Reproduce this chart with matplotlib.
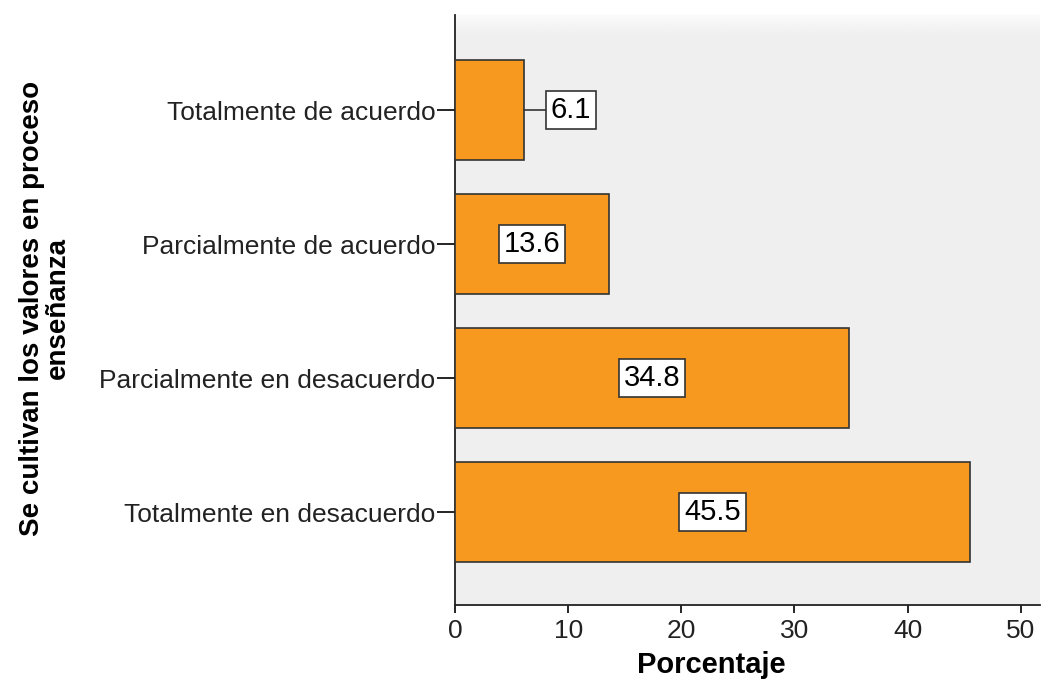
import matplotlib
matplotlib.use("Agg")
import matplotlib.pyplot as plt
import numpy as np

categories = ["Totalmente en desacuerdo", "Parcialmente en desacuerdo",
              "Parcialmente de acuerdo", "Totalmente de acuerdo"]
values = [45.5, 34.8, 13.6, 6.1]
xticks = [0, 10, 20, 30, 40, 50]

plt.rcParams['font.family'] = ['Liberation Sans', 'DejaVu Sans']

fig = plt.figure(figsize=(10.42, 6.84), dpi=100)
ax = fig.add_axes([455/1042, 79/684, (1040-455)/1042, (605-15)/684])
ax.set_facecolor('#efefef')

# subtle top fade of the plot background
grad = np.linspace(0, 1, 50).reshape(-1, 1)
ax.imshow(grad, extent=[0, 1, 0.965, 1.0], transform=ax.transAxes, aspect='auto',
          cmap=matplotlib.colors.LinearSegmentedColormap.from_list('g', ['#efefef', '#fbfbfb']),
          origin='lower', zorder=0)

pos = list(range(len(categories)))
ax.barh(pos, values, height=0.746, color='#f7991f', edgecolor='#333333', linewidth=1.2, zorder=3)

ax.set_xlim(0, 51.7)
ax.set_ylim(-0.694, 3.709)

for p, v in zip(pos, values):
    if v < 10:
        ax.plot([v, v + 2.0], [p, p], color='#333333', lw=1.2, zorder=3)
        ax.text(v + 2.0 + 0.35, p, f"{v:.1f}", ha='left', va='center', fontsize=21, zorder=4,
                bbox=dict(boxstyle='square,pad=0.17', fc='white', ec='#333333', lw=1.2))
    else:
        ax.text(v / 2, p, f"{v:.1f}", ha='center', va='center', fontsize=21, zorder=4,
                bbox=dict(boxstyle='square,pad=0.17', fc='white', ec='#333333', lw=1.2))

ax.set_yticks(pos)
ax.set_yticklabels(categories, fontsize=19, color='#222222')
ax.set_xticks(xticks)
ax.set_xticklabels([str(t) for t in xticks], fontsize=19, color='#222222')
ax.tick_params(axis='y', length=13, width=1.2, pad=1)
ax.tick_params(axis='x', length=6, width=1.2, pad=4)

for s in ['top', 'right']:
    ax.spines[s].set_visible(False)
for s in ['left', 'bottom']:
    ax.spines[s].set_linewidth(1.3)
    ax.spines[s].set_color('#222222')

fig.text(711/1042, 1 - 665/684, "Porcentaje", ha='center', va='center',
         fontsize=21, fontweight='bold')
fig.text(45/1042, 1 - 308/684, "Se cultivan los valores en proceso\nenseñanza", rotation=90,
         ha='center', va='center', fontsize=20, fontweight='bold', linespacing=0.95)

fig.savefig("out.png", dpi=100)
